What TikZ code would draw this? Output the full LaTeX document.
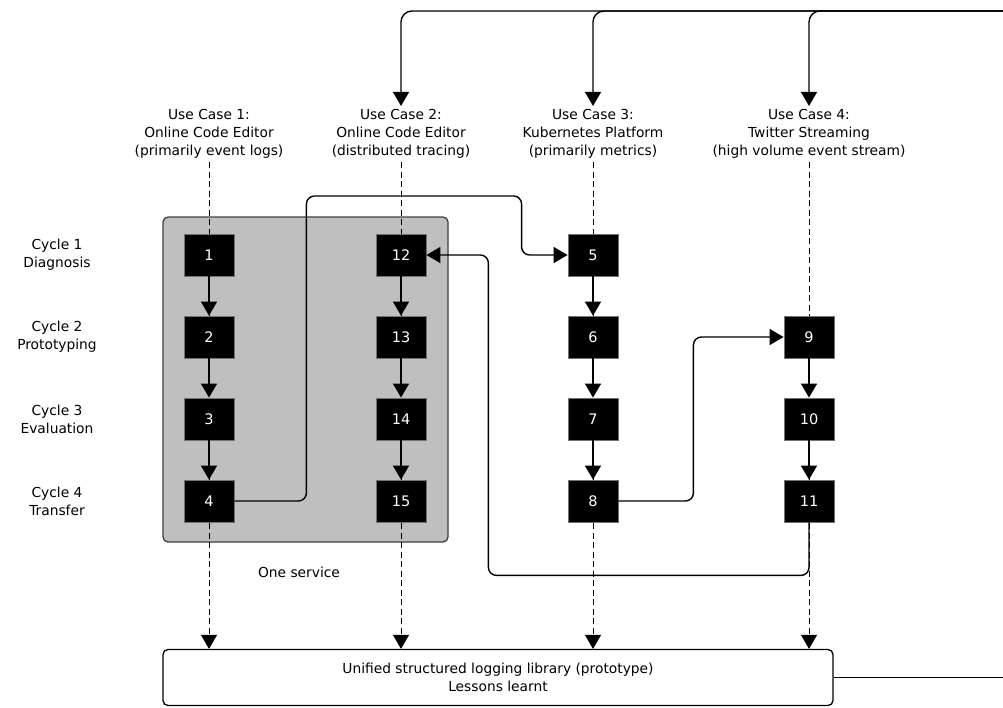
\documentclass[tikz,border=0pt]{standalone}
\usepackage{fontspec}
\setmainfont{DejaVu Sans}
\usetikzlibrary{arrows.meta}
\begin{document}
\begin{tikzpicture}[x=1pt,y=-1pt,
  font=\fontsize{13.8}{18.3}\selectfont,
  stepbox/.style={draw=black!55, fill=black, text=white, minimum width=50pt, minimum height=42pt, inner sep=0pt, line width=0.8pt, font=\fontsize{14.5}{17}\selectfont},
  arr/.style={-{Triangle[length=14pt,width=16pt]}, line width=1.4pt},
  dashline/.style={dash pattern=on 6pt off 3.5pt, line width=1pt, draw=black, -{Triangle[length=14pt,width=16pt]}},
  hdr/.style={align=center, inner sep=3pt},
  cyc/.style={align=center},
  container/.style={draw=black!75, fill=black!25, line width=1.3pt, rounded corners=5pt},
  libbox/.style={draw, rounded corners=5pt, line width=1.3pt, align=center, minimum width=670pt, minimum height=56pt}
  ]
\useasboundingbox (0,0) rectangle (1003,707);

% service container
\node[container, minimum width=285pt, minimum height=325pt] (svc) at (305.5,379.5) {};

% headers
\node[hdr] (uc1) at (209,134) {Use Case 1:\\Online Code Editor\\(primarily event logs)};
\node[hdr] (uc2) at (401,134) {Use Case 2:\\Online Code Editor\\(distributed tracing)};
\node[hdr] (uc3) at (593,134) {Use Case 3:\\Kubernetes Platform\\(primarily metrics)};
\node[hdr] (uc4) at (809,134) {Use Case 4:\\Twitter Streaming\\(high volume event stream)};

% cycle labels
\node[cyc] (c1) at (57,255) {Cycle 1\\Diagnosis};
\node[cyc] (c2) at (57,337) {Cycle 2\\Prototyping};
\node[cyc] (c3) at (57,419) {Cycle 3\\Evaluation};
\node[cyc] (c4) at (57,501) {Cycle 4\\Transfer};

\node (one) at (299,572) {One service};

% library box
\node[libbox] (lib) at (498,677.5) {Unified structured logging library (prototype)\\Lessons learnt};

% dashed lines
\draw[dashline] (uc1.south) -- (uc1.south |- lib.north);
\draw[dashline] (uc2.south) -- (uc2.south |- lib.north);
\draw[dashline] (uc3.south) -- (uc3.south |- lib.north);
\draw[dashline] (uc4.south) -- (uc4.south |- lib.north);

% boxes
\node[stepbox] (b1) at (209,255) {1};
\node[stepbox] (b2) at (209,337) {2};
\node[stepbox] (b3) at (209,419) {3};
\node[stepbox] (b4) at (209,501) {4};
\node[stepbox] (b12) at (401,255) {12};
\node[stepbox] (b13) at (401,337) {13};
\node[stepbox] (b14) at (401,419) {14};
\node[stepbox] (b15) at (401,501) {15};
\node[stepbox] (b5) at (593,255) {5};
\node[stepbox] (b6) at (593,337) {6};
\node[stepbox] (b7) at (593,419) {7};
\node[stepbox] (b8) at (593,501) {8};
\node[stepbox] (b9) at (809,337) {9};
\node[stepbox] (b10) at (809,419) {10};
\node[stepbox] (b11) at (809,501) {11};

% vertical arrows
\draw[arr] (b1) -- (b2);
\draw[arr] (b2) -- (b3);
\draw[arr] (b3) -- (b4);
\draw[arr] (b12) -- (b13);
\draw[arr] (b13) -- (b14);
\draw[arr] (b14) -- (b15);
\draw[arr] (b5) -- (b6);
\draw[arr] (b6) -- (b7);
\draw[arr] (b7) -- (b8);
\draw[arr] (b9) -- (b10);
\draw[arr] (b10) -- (b11);

% cross connectors
\draw[arr, rounded corners=8pt] (b4.east) -- ++(72,0) -- ++(0,-305) -| ([xshift=-46pt]b5.west) -- (b5.west);
\draw[arr, rounded corners=8pt] (b8.east) -- ++(75,0) |- (b9.west);
\draw[arr, rounded corners=8pt] (b11.south) -- ++(0,53) -| ([xshift=62pt]b12.east) -- (b12.east);

% feedback loop
\coordinate (rt) at (1003,11);
\coordinate (rb) at (1003,677.5);
\draw[line width=1.4pt] (lib.east) -- (rb);
\draw[arr, rounded corners=11pt] (rt) -| (uc2.north);
\draw[arr, rounded corners=11pt] (rt) -| (uc3.north);
\draw[arr, rounded corners=11pt] (rt) -| (uc4.north);
\end{tikzpicture}
\end{document}
